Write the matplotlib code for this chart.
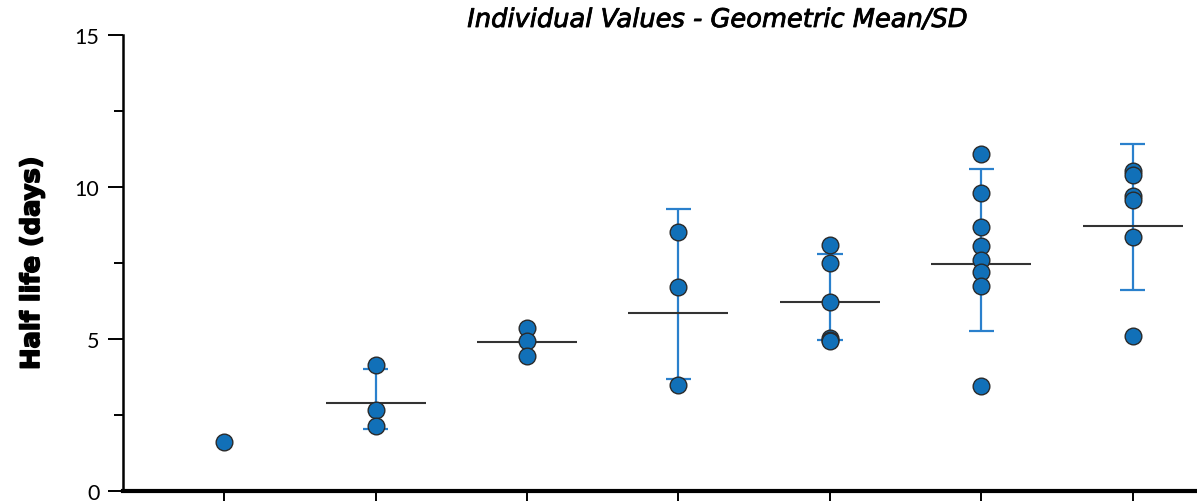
import matplotlib
matplotlib.use("Agg")
import matplotlib.pyplot as plt
import matplotlib.patheffects as pe
import numpy as np

# Data
groups = [0, 1, 2, 3, 4, 5, 6]
values = [
    [1.61],
    [4.14, 2.66, 2.14],
    [5.36, 4.94, 4.45],
    [8.53, 6.71, 3.49],
    [8.10, 7.50, 6.22, 5.02, 4.96, 4.92],
    [11.10, 9.80, 8.67, 8.05, 7.61, 7.19, 6.75, 3.46],
    [10.54, 10.41, 9.72, 9.57, 8.37, 5.11],
]
geo_mean = [None, 2.88, 4.91, 5.84, 6.22, 7.48, 8.71]
sd_low = [None, 2.04, None, 3.69, 4.96, 5.26, 6.62]
sd_high = [None, 4.01, None, 9.27, 7.81, 10.59, 11.41]

title = "Individual Values - Geometric Mean/SD"
ylabel = "Half life (days)"

fig = plt.figure(figsize=(11.97, 5.02), dpi=100)
ax = fig.add_axes([123 / 1197, 10 / 502, 1074 / 1197, 456 / 502])

pt_color = "#1170b8"
err_color = "#2a80cc"

for g, vals, m, lo, hi in zip(groups, values, geo_mean, sd_low, sd_high):
    if lo is not None and hi is not None:
        ax.vlines(g, lo, hi, color=err_color, lw=1.6, zorder=2)
        ax.hlines([lo, hi], g - 0.083, g + 0.083, color=err_color, lw=1.6, zorder=2)
    if m is not None:
        ax.hlines(m, g - 0.33, g + 0.33, color="#333333", lw=1.5, zorder=2)
    ax.plot([g] * len(vals), vals, linestyle="none", marker="o", markersize=12,
            markerfacecolor=pt_color, markeredgecolor="#2a2a2a", markeredgewidth=1.0,
            zorder=3)

ax.set_xlim(-0.667, 6.423)
ax.set_ylim(0, 15)
ax.set_xticks(groups)
ax.set_xticklabels([])
ax.set_yticks([0, 5, 10, 15])
ax.set_yticks([2.5, 7.5, 12.5], minor=True)
ax.set_yticklabels(["0", "5", "10", "15"], fontsize=15.5, family="Lato")

for s in ["top", "right"]:
    ax.spines[s].set_visible(False)
ax.spines["left"].set_linewidth(1.8)
ax.spines["bottom"].set_linewidth(3.0)
ax.tick_params(axis="y", which="major", length=11, width=1.4, pad=6)
ax.tick_params(axis="y", which="minor", length=6.5, width=1.4)
ax.tick_params(axis="x", which="major", length=10, width=1.4, direction="out")

yl = ax.set_ylabel(ylabel, fontsize=18.5, fontweight="heavy", family="DejaVu Sans")
yl.set_path_effects([pe.withStroke(linewidth=1.2, foreground="black")])
ax.yaxis.set_label_coords(-0.0726, 0.5)

tt = fig.text(718 / 1197, 1 - 21 / 502, title, ha="center", va="center",
              fontsize=18.5, style="italic", family="DejaVu Sans")
tt.set_path_effects([pe.withStroke(linewidth=0.6, foreground="black")])

fig.savefig("out.png", dpi=100)
